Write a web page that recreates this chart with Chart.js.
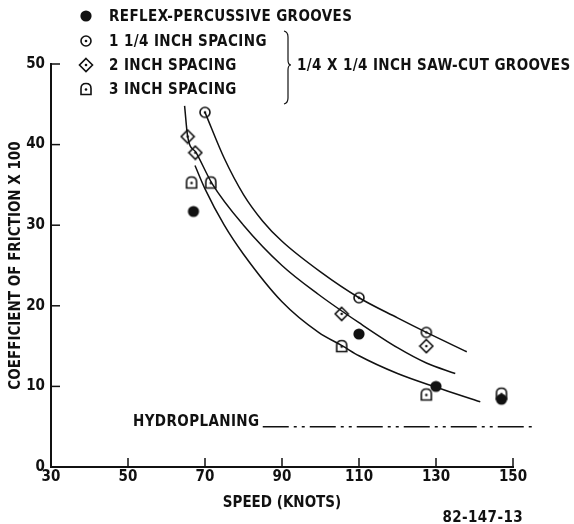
<!DOCTYPE html>
<html lang="en">
<head>
<meta charset="UTF-8">
<title>Coefficient of friction vs speed</title>
<script src="https://cdn.jsdelivr.net/npm/chart.js"></script>
<style>
  body { margin: 0; background: #fff; }
  .wrap { position: relative; width: 574px; height: 524px; }
  .txt {
    position: absolute;
    font-family: 'Liberation Sans Narrow', 'DejaVu Sans Condensed', 'Arial Narrow', sans-serif;
    font-weight: bold; font-size: 15px; line-height: 18px;
    color: #111; white-space: nowrap; letter-spacing: 0.4px;
  }
  .mk { position: absolute; }
</style>
<script>
// axis ticks
var speedTicks = [30, 50, 70, 90, 110, 130, 150];
var frictionTicks = [0, 10, 20, 30, 40, 50];

// measured points
var reflexSpeed = [67, 110, 130, 147];
var reflexFriction = [31.7, 16.5, 10, 8.4];
var spacing114Speed = [70, 110, 127.5];
var spacing114Friction = [44, 21, 16.7];
var spacing2Speed = [65.5, 67.5, 105.5, 127.5];
var spacing2Friction = [41, 39, 19, 15];
var spacing3Speed = [66.5, 71.5, 105.5, 127.5, 147];
var spacing3Friction = [35.3, 35.3, 15, 9, 9.1];

// faired curves
var curve114Speed = [70, 75, 80, 85, 90, 100, 110, 120, 127.5, 138];
var curve114Friction = [44, 38.3, 33.8, 30.5, 28, 24.2, 21, 18.5, 16.7, 14.3];
var curve2Speed = [64.7, 65.5, 67.7, 71.8, 80, 90, 99.5, 110, 120, 127.5, 135];
var curve2Friction = [44.8, 41, 39, 35.2, 30, 25, 21.4, 17.9, 14.8, 12.9, 11.6];
var curve3Speed = [67.4, 70, 75, 80, 90, 99.5, 105.8, 110, 120, 130, 141.5];
var curve3Friction = [37.4, 34.5, 30, 26.4, 20.5, 16.7, 15, 13.8, 11.6, 9.9, 8.1];

// hydroplaning level
var hydroSpeed = [85, 155];
var hydroFriction = [5, 5];
</script>
</head>
<body>
<div class="wrap" id="wrap">
  <canvas id="chart" width="574" height="524"></canvas>

  <div class="txt" style="left:109px; top:7px;">REFLEX-PERCUSSIVE GROOVES</div>
  <div class="txt" style="left:109px; top:32px;">1 1/4 INCH SPACING</div>
  <div class="txt" style="left:109px; top:56px;">2 INCH SPACING</div>
  <div class="txt" style="left:109px; top:80px;">3 INCH SPACING</div>
  <svg style="position:absolute; left:0; top:0;" width="574" height="120">
    <path d="M284,31 Q288,32 288,37 L288,60 Q288,65 291,65 Q288,65 288,70 L288,98 Q288,103 284,104"
          fill="none" stroke="#111" stroke-width="1.2"/>
  </svg>
  <div class="txt" style="left:297px; top:56px;">1/4 X 1/4 INCH SAW-CUT GROOVES</div>

  <div class="txt" style="left:133px; top:412px;">HYDROPLANING</div>
  <div class="txt" style="right:51px; top:508px;">82-147-13</div>
</div>

<script>
var INK = '#111';
var FONT = "'Liberation Sans Narrow', 'DejaVu Sans Condensed', 'Arial Narrow', sans-serif";

function pts(xs, ys) {
  return xs.map(function (x, i) { return { x: x, y: ys[i] }; });
}

// marker images
function makeMarker(kind) {
  var c = document.createElement('canvas');
  c.width = 16; c.height = 16;
  var g = c.getContext('2d');
  g.strokeStyle = INK; g.fillStyle = INK; g.lineWidth = 1.6;
  if (kind === 'filled') {
    g.beginPath(); g.arc(8, 8, 5.6, 0, Math.PI * 2); g.fill();
    return c;
  }
  g.beginPath();
  if (kind === 'circle') {
    g.arc(8, 8, 5, 0, Math.PI * 2);
  } else if (kind === 'diamond') {
    g.moveTo(8, 1.5); g.lineTo(14.5, 8); g.lineTo(8, 14.5); g.lineTo(1.5, 8); g.closePath();
  } else {
    g.moveTo(3, 13.5); g.lineTo(3, 7.5);
    g.quadraticCurveTo(3, 2.5, 8, 2.5);
    g.quadraticCurveTo(13, 2.5, 13, 7.5);
    g.lineTo(13, 13.5); g.closePath();
  }
  g.stroke();
  g.beginPath(); g.arc(8, kind === 'house' ? 8.5 : 8, 1.3, 0, Math.PI * 2); g.fill();
  return c;
}

// legend markers
var legendKinds = ['filled', 'circle', 'diamond', 'house'];
var legendY = [16, 41, 65, 89];
legendKinds.forEach(function (k, i) {
  var m = makeMarker(k);
  m.className = 'mk';
  m.style.left = (86 - 8) + 'px';
  m.style.top = (legendY[i] - 8) + 'px';
  document.getElementById('wrap').appendChild(m);
});

// tick marks pointing into the plot
var innerTicks = {
  id: 'innerTicks',
  afterDraw: function (chart) {
    var ctx = chart.ctx, a = chart.chartArea;
    var xs = chart.scales.x, ys = chart.scales.y;
    ctx.save();
    ctx.strokeStyle = INK; ctx.lineWidth = 1.5;
    speedTicks.forEach(function (v) {
      var px = xs.getPixelForValue(v);
      ctx.beginPath(); ctx.moveTo(px, a.bottom); ctx.lineTo(px, a.bottom - 9); ctx.stroke();
    });
    frictionTicks.forEach(function (v) {
      var py = ys.getPixelForValue(v);
      ctx.beginPath(); ctx.moveTo(a.left, py); ctx.lineTo(a.left + 9, py); ctx.stroke();
    });
    ctx.restore();
  }
};

function curveSet(xs, ys) {
  return {
    data: pts(xs, ys), showLine: true, pointRadius: 0,
    borderColor: INK, borderWidth: 1.5,
    cubicInterpolationMode: 'monotone', order: 10
  };
}

function markSet(xs, ys, kind, order) {
  return {
    data: pts(xs, ys), showLine: false,
    pointStyle: makeMarker(kind), pointRadius: 8,
    order: order
  };
}

Chart.defaults.font.family = FONT;
Chart.defaults.font.weight = 'bold';
Chart.defaults.font.size = 15;
Chart.defaults.color = INK;

new Chart(document.getElementById('chart'), {
  type: 'scatter',
  data: {
    datasets: [
      curveSet(curve114Speed, curve114Friction),
      curveSet(curve2Speed, curve2Friction),
      curveSet(curve3Speed, curve3Friction),
      {
        data: pts(hydroSpeed, hydroFriction), showLine: true, pointRadius: 0,
        borderColor: INK, borderWidth: 1.5,
        borderDash: [26, 5, 3, 5, 3, 5], clip: false, order: 10
      },
      markSet(reflexSpeed, reflexFriction, 'filled', 3),
      markSet(spacing114Speed, spacing114Friction, 'circle', 2),
      markSet(spacing2Speed, spacing2Friction, 'diamond', 2),
      markSet(spacing3Speed, spacing3Friction, 'house', 1)
    ]
  },
  options: {
    responsive: false,
    animation: false,
    devicePixelRatio: 1,
    layout: { padding: { top: 64, right: 61, left: 0, bottom: 0 } },
    plugins: { legend: { display: false }, tooltip: { enabled: false } },
    scales: {
      x: {
        type: 'linear', min: 30, max: 150,
        afterBuildTicks: function (s) { s.ticks = speedTicks.map(function (v) { return { value: v }; }); },
        afterFit: function (s) { s.height = 57; },
        grid: { display: false, drawTicks: false },
        border: { display: true, color: INK, width: 2 },
        ticks: { padding: 1, maxRotation: 0 },
        title: { display: true, text: 'SPEED (KNOTS)', padding: { top: 12, bottom: 12 } }
      },
      y: {
        type: 'linear', min: 0, max: 50,
        afterBuildTicks: function (s) { s.ticks = frictionTicks.map(function (v) { return { value: v }; }); },
        afterFit: function (s) { s.width = 51; },
        grid: { display: false, drawTicks: false },
        border: { display: true, color: INK, width: 2 },
        ticks: { padding: 6 },
        title: { display: true, text: 'COEFFICIENT OF FRICTION X 100', padding: { top: 7, bottom: 0 } }
      }
    }
  },
  plugins: [innerTicks]
});
</script>
</body>
</html>
